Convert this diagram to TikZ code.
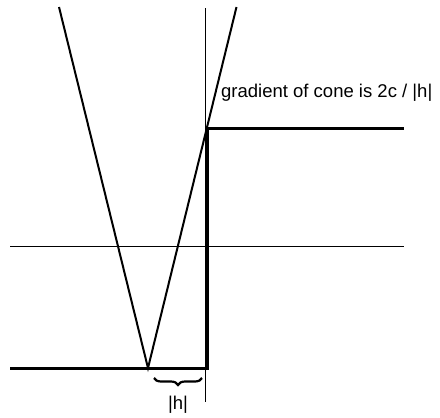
\documentclass[tikz,border=0pt]{standalone}
\usepackage{fontspec}
\setmainfont{Liberation Sans}
\usetikzlibrary{decorations.pathreplacing}
\begin{document}
\begin{tikzpicture}[x=1pt,y=-1pt,
  thickline/.style={line width=3pt},
  thinline/.style={line width=0.9pt},
  conel/.style={line width=2pt},
  lbl/.style={font=\fontsize{18.5}{22}\selectfont, inner sep=0pt}]
\useasboundingbox (0,0) rectangle (440,418);
% coordinates
\coordinate (tl) at (59,7);
\coordinate (tr) at (236.5,7);
\coordinate (apex) at (148,368);
\coordinate (bl) at (10,368);
\coordinate (stepb) at (207,368);
\coordinate (stept) at (207,128);
\coordinate (ur) at (404,128);
\coordinate (vt) at (205.5,8);
\coordinate (vb) at (205.5,402);
\coordinate (ml) at (10,246);
\coordinate (mr) at (404,246);
\coordinate (b1) at (154,378);
\coordinate (b2) at (202,378);
% thin lines
\draw[thinline] (vt) -- (vb);
\draw[thinline] (ml) -- (mr);
% cone
\draw[conel] (tl) -- (apex) -- (tr);
% step function
\draw[thickline] (bl) -- (stepb) -- (stept) -- (ur);
% brace
\draw[line width=2.2pt, decorate, decoration={brace, amplitude=7pt, mirror}] (b1) -- (b2);
\node[lbl] (h) at (178,405) {|h|};
\node[lbl, anchor=base west] (g) at (221,97) {gradient of cone is 2c / |h|};
\end{tikzpicture}
\end{document}
